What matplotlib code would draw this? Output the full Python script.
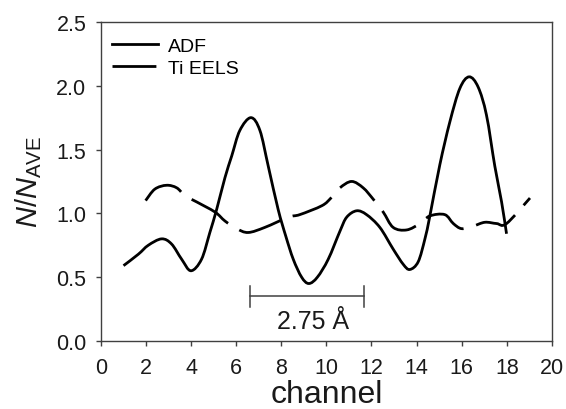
import matplotlib; matplotlib.use("Agg")
import matplotlib.pyplot as plt
from matplotlib.path import Path
from matplotlib.patches import PathPatch
from matplotlib.lines import Line2D

plt.rcParams["font.family"] = ["Liberation Sans", "DejaVu Sans"]
plt.rcParams["mathtext.fontset"] = "custom"
plt.rcParams["mathtext.it"] = "Liberation Sans:italic"
plt.rcParams["mathtext.rm"] = "Liberation Sans"

# values (channel, N/N_ave)
adf_x = [1.0, 1.66, 2.10, 2.69, 3.13, 3.58, 3.99, 4.46, 4.83, 5.13, 5.50, 5.80, 6.16, 6.65,
         7.05, 7.42, 7.86, 8.20, 8.53, 8.90, 9.22, 9.60, 10.08, 10.60, 10.90, 11.34,
         11.78, 12.37, 12.96, 13.41, 13.70, 14.07, 14.37, 14.59, 15.03, 15.48, 15.92,
         16.33, 16.73, 17.10, 17.47, 17.77, 17.99]
adf_y = [0.59, 0.68, 0.75, 0.80, 0.76, 0.64, 0.55, 0.64, 0.85, 1.03, 1.28, 1.45, 1.65, 1.75,
         1.65, 1.37, 1.03, 0.82, 0.64, 0.50, 0.45, 0.50, 0.64, 0.86, 0.97, 1.02,
         0.99, 0.89, 0.72, 0.60, 0.56, 0.62, 0.80, 0.98, 1.38, 1.72, 1.98,
         2.07, 1.99, 1.77, 1.37, 1.09, 0.84]

ti_x = [1.98, 2.39, 2.91, 3.36, 3.72, 4.24, 5.06, 5.50, 6.02, 6.53, 7.27, 8.31, 8.82, 9.80, 10.20,
        10.60, 11.12, 11.63, 12.08, 12.52, 12.96, 13.56, 14.15, 14.59, 15.25, 15.63, 16.00, 16.51,
        17.03, 17.55, 17.99, 19.03]
ti_y = [1.10, 1.19, 1.22, 1.20, 1.14, 1.09, 1.01, 0.94, 0.88, 0.85, 0.89, 0.97, 0.99, 1.06, 1.12,
        1.20, 1.25, 1.20, 1.11, 1.01, 0.89, 0.87, 0.92, 0.98, 0.99, 0.92, 0.88, 0.90,
        0.93, 0.92, 0.92, 1.12]

bar_x = [6.61, 11.65]; bar_y = 0.35; bar_label = "2.75 Å"

DASH = (15.8, 4.7)

def smooth_path(xs, ys):
    # cubic bezier segments through the read points (catmull-rom tangents), drawing only
    verts = [(xs[0], ys[0])]; codes = [Path.MOVETO]
    n = len(xs)
    for i in range(n - 1):
        x0, y0 = (xs[i-1], ys[i-1]) if i > 0 else (xs[i], ys[i])
        x3, y3 = (xs[i+2], ys[i+2]) if i + 2 < n else (xs[i+1], ys[i+1])
        x1, y1, x2, y2 = xs[i], ys[i], xs[i+1], ys[i+1]
        c1 = (x1 + (x2 - x0) / 6, y1 + (y2 - y0) / 6)
        c2 = (x2 - (x3 - x1) / 6, y2 - (y3 - y1) / 6)
        verts += [c1, c2, (x2, y2)]; codes += [Path.CURVE4] * 3
    return Path(verts, codes)

fig = plt.figure(figsize=(5.66, 4.10), dpi=100)
ax = fig.add_axes([0.1784, 0.166, 0.7966, 0.778])
ax.add_patch(PathPatch(smooth_path(adf_x, adf_y), fill=False, ec="black", lw=2.0,
                       capstyle="butt", joinstyle="round"))
ax.add_patch(PathPatch(smooth_path(ti_x, ti_y), fill=False, ec="black", lw=2.0,
                       ls=(0, DASH), capstyle="butt", joinstyle="round"))

# scale bar
gray = "#404040"
ax.plot(bar_x, [bar_y, bar_y], color=gray, lw=1.1)
for bx in bar_x:
    ax.plot([bx, bx], [bar_y - 0.085, bar_y + 0.08], color=gray, lw=1.1)
ax.text(9.4, 0.10, bar_label, ha="center", va="baseline", fontsize=18, color="#1a1a1a")

ax.set_xlim(0, 20); ax.set_ylim(0, 2.5)
ax.set_xticks(range(0, 21, 2))
ax.set_yticks([0.0, 0.5, 1.0, 1.5, 2.0, 2.5])
ax.set_yticklabels([f"{v:.1f}" for v in ax.get_yticks()])
ax.tick_params(direction="out", length=3.6, width=1, color=gray, labelsize=15.5,
               labelcolor="#1a1a1a", top=False, right=False)
ax.tick_params(axis="x", pad=8)
ax.tick_params(axis="y", pad=7)
for s in ax.spines.values():
    s.set_color(gray); s.set_linewidth(1.0)

ax.set_xlabel("channel", fontsize=23, color="#1a1a1a", labelpad=1)
ax.set_ylabel(r"$N/N_{\mathrm{AVE}}$", fontsize=21, color="#1a1a1a", labelpad=9)

handles = [Line2D([], [], color="black", lw=2.0),
           Line2D([], [], color="black", lw=2.0, dashes=DASH)]
ax.legend(handles, ["ADF", "Ti EELS"], loc="upper left", frameon=False, fontsize=14,
          handlelength=2.4, handletextpad=0.5, labelspacing=0.25, borderaxespad=0.0,
          borderpad=0.2, bbox_to_anchor=(0.015, 0.965))

fig.savefig("out.png", dpi=100)
